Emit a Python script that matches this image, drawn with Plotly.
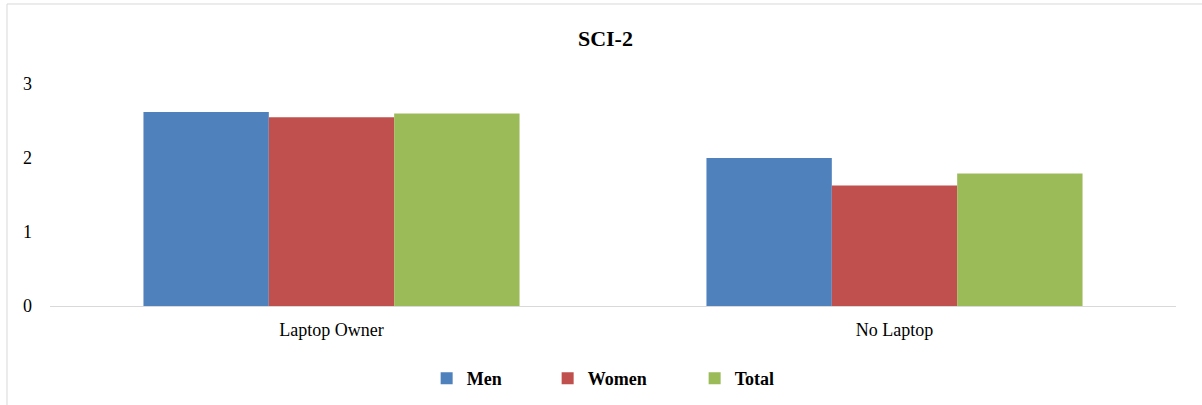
import plotly.graph_objects as go

categories = ["Laptop Owner", "No Laptop"]
series_names = ["Men", "Women", "Total"]
men = [2.62, 2.00]
women = [2.55, 1.63]
total = [2.60, 1.79]
y_ticks = [0, 1, 2, 3]
title_text = "SCI-2"

colors = {"Men": "#4F81BD", "Women": "#C0504D", "Total": "#9BBB59"}
legend_widths = {"Men": 76, "Women": 102, "Total": 45}
values = {"Men": men, "Women": women, "Total": total}

SERIF = "Liberation Serif, Times New Roman, serif"

fig = go.Figure()
for name in series_names:
    fig.add_trace(go.Bar(
        x=categories, y=values[name], name=name,
        marker=dict(color=colors[name], line=dict(width=0)),
        legendwidth=legend_widths[name],
    ))

fig.update_layout(
    width=1202, height=405,
    margin=dict(l=50, r=26, t=84, b=99, autoexpand=False),
    paper_bgcolor="white", plot_bgcolor="white",
    barmode="group", bargap=0.332, bargroupgap=0,
    font=dict(family=SERIF, size=18, color="#000000"),
    title=dict(text="<b>" + title_text + "</b>", x=0.5037, xanchor="center",
               xref="container", yref="container", y=0.906, yanchor="middle",
               font=dict(family=SERIF, size=22, color="#000000")),
    showlegend=True,
    legend=dict(orientation="h", x=0.3345, xanchor="left", y=-0.3266, yanchor="middle",
                font=dict(family=SERIF, size=18, color="#000000", weight="bold"),
                itemwidth=30, bgcolor="rgba(0,0,0,0)", traceorder="normal"),
    xaxis=dict(showgrid=False, showline=True, linecolor="#D9D9D9", linewidth=1,
               ticks="", ticklabelstandoff=7, zeroline=False,
               tickfont=dict(family=SERIF, size=18, color="#000000")),
    yaxis=dict(range=[0, 3], tickvals=y_ticks, showgrid=False, zeroline=False,
               showline=False, ticks="", ticklabelstandoff=17,
               tickfont=dict(family=SERIF, size=18, color="#000000")),
    shapes=[dict(type="rect", xref="paper", yref="paper",
                 x0=-0.0382, x1=1.2, y0=-0.6, y1=1.3604,
                 line=dict(color="#D9D9D9", width=1), fillcolor="rgba(0,0,0,0)",
                 layer="below")],
)

fig.write_html("out.html",
               config={"displayModeBar": False},
               post_script="document.body.style.margin='0';document.body.style.padding='0';")
